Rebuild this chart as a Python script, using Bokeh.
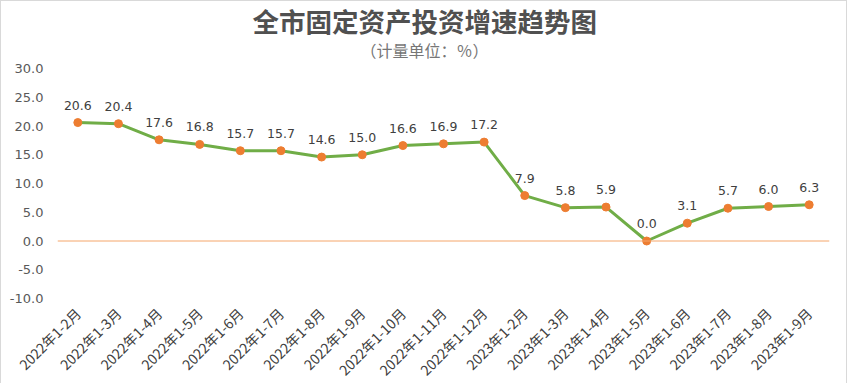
import math
from bokeh.plotting import figure
from bokeh.models import ColumnDataSource, Title, Span, Range1d, FixedTicker, LabelSet, PrintfTickFormatter
from bokeh.embed import file_html
from bokeh.resources import INLINE
from bokeh.core.properties import value

categories = ["2022年1-2月", "2022年1-3月", "2022年1-4月", "2022年1-5月", "2022年1-6月",
              "2022年1-7月", "2022年1-8月", "2022年1-9月", "2022年1-10月", "2022年1-11月",
              "2022年1-12月", "2023年1-2月", "2023年1-3月", "2023年1-4月", "2023年1-5月",
              "2023年1-6月", "2023年1-7月", "2023年1-8月", "2023年1-9月"]
growth = [20.6, 20.4, 17.6, 16.8, 15.7, 15.7, 14.6, 15.0, 16.6, 16.9, 17.2,
          7.9, 5.8, 5.9, 0.0, 3.1, 5.7, 6.0, 6.3]
y_ticks = [-10, -5, 0, 5, 10, 15, 20, 25, 30]

labels = ["%.1f" % v for v in growth]
src = ColumnDataSource(dict(x=categories, y=growth, lab=labels))

p = figure(frame_width=772, frame_height=230, x_range=categories, y_range=Range1d(-10, 30),
           output_backend="svg", toolbar_location=None,
           min_border_left=56, min_border_right=17, min_border_bottom=82, min_border_top=67,
           styles={"border": "1px solid #d9d9d9"})
p.x_range.range_padding = 0

font = "Noto Sans CJK SC"
p.add_layout(Title(text="（计量单位：％）", align="left", offset=303, text_font=font,
                   text_font_size="16px", text_font_style="normal", text_color="#767676",
                   standoff=13), "above")
p.add_layout(Title(text="全市固定资产投资增速趋势图", align="left", offset=195, text_font=font,
                   text_font_size="26.5px", text_font_style="bold", text_color="#505050",
                   standoff=-21), "above")

p.grid.visible = False
p.outline_line_color = None
p.background_fill_color = "white"
p.border_fill_color = "white"

p.yaxis.ticker = FixedTicker(ticks=y_ticks)
p.yaxis.formatter = PrintfTickFormatter(format="%.1f")
p.yaxis.axis_line_color = None
p.yaxis.major_tick_line_color = None
p.yaxis.minor_tick_line_color = None
p.yaxis.major_label_text_font = "DejaVu Sans"
p.yaxis.major_label_text_font_size = "13px"
p.yaxis.major_label_text_color = "#595959"
p.yaxis.major_label_standoff = 8

p.xaxis.axis_line_color = None
p.xaxis.major_tick_line_color = None
p.xaxis.minor_tick_line_color = None
p.xaxis.major_label_orientation = 0.7854
p.xaxis.major_label_text_font = font
p.xaxis.major_label_text_font_size = "14px"
p.xaxis.major_label_text_color = "#404040"
p.xaxis.major_label_standoff = 6

p.add_layout(Span(location=0, dimension="width", line_color="#f5a66b", line_width=1))

p.line("x", "y", source=src, line_color="#70ad47", line_width=3)
p.scatter("x", "y", source=src, size=8, fill_color="#ed7d31", line_color="#ed7d31")

p.add_layout(LabelSet(x="x", y="y", text="lab", source=src, y_offset=13,
                      text_align="center", text_baseline="bottom",
                      text_font=value("DejaVu Sans"), text_font_size="12.5px",
                      text_color="#404040"))

open("out.html", "w").write(file_html(p, INLINE))
